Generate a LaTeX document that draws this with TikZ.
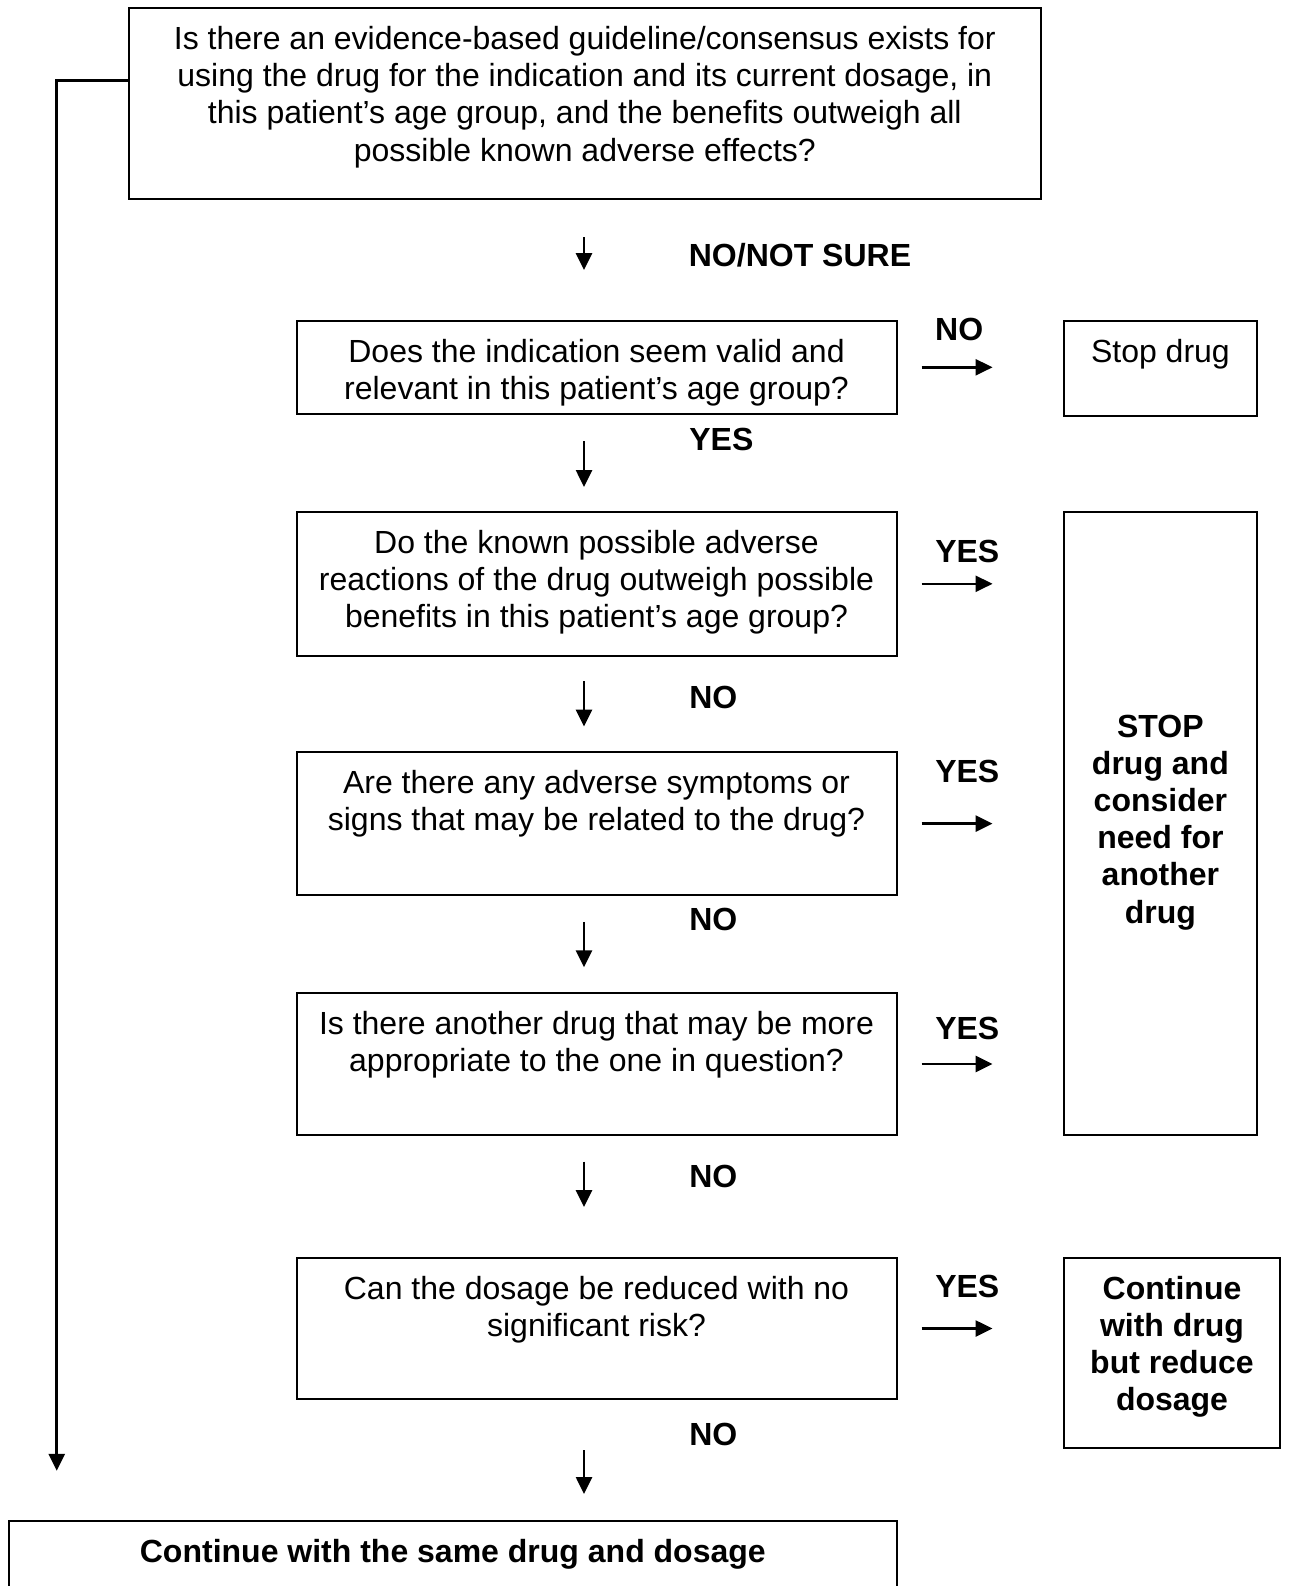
\documentclass[tikz,border=0pt]{standalone}
\usepackage{fontspec}
\setmainfont{Liberation Sans}
\usetikzlibrary{arrows.meta}

% box text: height, width, top pad, text
\newcommand{\boxtxt}[4]{\parbox[c][#1][t]{#2}{\centering\rule{0pt}{#3}#4}}

\tikzset{
  box/.style={draw, line width=2pt, inner sep=0pt, font=\fontsize{32}{37.2}\selectfont},
  lbl/.style={anchor=base, font=\fontsize{32}{37.2}\selectfont\bfseries},
  arr/.style={-{Triangle[length=17pt,width=16pt]}, line width=2.6pt}
}

\begin{document}
\begin{tikzpicture}[x=1pt,y=1pt]
\clip (0,0) rectangle (1288,-1586);

% boxes
\node[box] (top) at (584.8,-103.7) {\boxtxt{191.3pt}{912.5pt}{41.5pt}{Is there an evidence-based guideline/consensus exists for\\ using the drug for the indication and its current dosage, in\\ this patient’s age group, and the benefits outweigh all\\ possible known adverse effects?}};
\node[box] (q2) at (596.5,-367.3) {\boxtxt{93.1pt}{600pt}{41.5pt}{Does the indication seem valid and\\ relevant in this patient’s age group?}};
\node[box] (stop) at (1160.4,-368.3) {\boxtxt{95.1pt}{192.7pt}{41.5pt}{Stop drug}};
\node[box] (q3) at (596.5,-583.8) {\boxtxt{143.6pt}{600pt}{41.5pt}{Do the known possible adverse\\ reactions of the drug outweigh possible\\ benefits in this patient’s age group?}};
\node[box] (stopbig) at (1160.4,-823.7) {\boxtxt{623.4pt}{192.7pt}{225pt}{\bfseries STOP\\ drug and\\ consider\\ need for\\ another\\ drug}};
\node[box] (q4) at (596.5,-823.6) {\boxtxt{143.7pt}{600pt}{41.5pt}{Are there any adverse symptoms or\\ signs that may be related to the drug?}};
\node[box] (q5) at (596.5,-1064) {\boxtxt{142.8pt}{600pt}{41.5pt}{Is there another drug that may be more\\ appropriate to the one in question?}};
\node[box] (q6) at (596.5,-1328.5) {\boxtxt{141.7pt}{600pt}{41.5pt}{Can the dosage be reduced with no\\ significant risk?}};
\node[box] (cont) at (1172,-1352.8) {\boxtxt{190.4pt}{216pt}{41.5pt}{\bfseries Continue\\ with drug\\ but reduce\\ dosage}};
\node[box] (fin) at (452.8,-1560.4) {\boxtxt{79.2pt}{887.5pt}{41.8pt}{\bfseries Continue with the same drug and dosage}};

% labels
\node[lbl] (l1) at (800,-266.6) {NO/NOT SURE};
\node[lbl] (l2) at (959.2,-340.4) {NO};
\node[lbl] (l3) at (721.4,-450.7) {YES};
\node[lbl] (l4) at (967.3,-562) {YES};
\node[lbl] (l5) at (713.3,-708.7) {NO};
\node[lbl] (l6) at (967.3,-782.6) {YES};
\node[lbl] (l7) at (713.3,-930.3) {NO};
\node[lbl] (l8) at (967.3,-1039.6) {YES};
\node[lbl] (l9) at (713.3,-1187.3) {NO};
\node[lbl] (l10) at (967.3,-1297.6) {YES};
\node[lbl] (l11) at (713.3,-1445.3) {NO};

% down arrows
\coordinate (ax) at (584,0);
\draw[arr, shorten <=36.7pt, shorten >=49.7pt] (top.south -| ax) -- (q2.north -| ax);
\draw[arr, shorten <=26.2pt, shorten >=24pt] (q2.south -| ax) -- (q3.north -| ax);
\draw[arr, shorten <=24.4pt, shorten >=24.2pt] (q3.south -| ax) -- (q4.north -| ax);
\draw[arr, shorten <=25.3pt, shorten >=24.3pt] (q4.south -| ax) -- (q5.north -| ax);
\draw[arr, shorten <=25.2pt, shorten >=49.6pt] (q5.south -| ax) -- (q6.north -| ax);
\draw[arr, shorten <=49.7pt, shorten >=25.8pt] (q6.south -| ax) -- (fin.north -| ax);

% right arrows
\draw[arr, shorten <=24.2pt, shorten >=70.5pt] (q2.east) -- (q2.east -| stop.west);
\draw[arr, shorten <=24.2pt, shorten >=70.5pt] (q3.east) -- (q3.east -| stopbig.west);
\draw[arr, shorten <=24.2pt, shorten >=70.5pt] (q4.east) -- (q4.east -| stopbig.west);
\draw[arr, shorten <=24.2pt, shorten >=70.5pt] (q5.east) -- (q5.east -| stopbig.west);
\draw[arr, shorten <=24.2pt, shorten >=70.5pt] (q6.east) -- (q6.east -| cont.west);

% left bypass
\draw[arr, shorten >=49pt] ([yshift=23pt]top.west) -| ([xshift=48.7pt]fin.north west);

\end{tikzpicture}
\end{document}
